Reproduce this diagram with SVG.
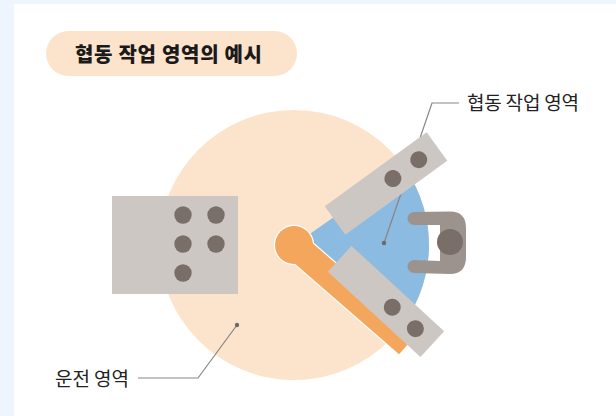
<svg xmlns="http://www.w3.org/2000/svg" width="616" height="416" viewBox="0 0 616 416">
  <defs>
    <style>
      .label { font-family: "Noto Sans CJK KR", "Noto Sans", sans-serif; font-size: 19px; fill: #222222; }
      .title { font-family: "Noto Sans CJK KR", "Noto Sans", sans-serif; font-size: 20px; font-weight: 900; fill: #1a1a1a; }
      .table { fill: #cdc7c4; }
      .knob { fill: #7a6e69; }
      .leader { fill: none; stroke: #8a8380; stroke-width: 1.2; }
      .leader-dot { fill: #6f6865; }
    </style>
  </defs>

  <!-- page background and panel -->
  <rect x="0" y="0" width="616" height="416" fill="#eef5fc"/>
  <rect x="14" y="4" width="602" height="412" fill="#ffffff"/>

  <!-- title badge -->
  <g id="title">
    <rect x="46" y="31" width="251" height="45" rx="22.5" fill="#fce4cc"/>
    <text class="title" x="75" y="62" textLength="187" lengthAdjust="spacing">협동 작업 영역의 예시</text>
  </g>

  <!-- operating range of the robot -->
  <g id="operating-zone">
    <circle cx="294" cy="245" r="135" fill="#fce4cc"/>
  </g>

  <!-- parts rack on the left -->
  <g id="parts-rack">
    <rect class="table" x="112" y="196" width="126" height="98"/>
    <circle class="knob" cx="183" cy="215" r="8.7"/>
    <circle class="knob" cx="216" cy="215" r="8.7"/>
    <circle class="knob" cx="183" cy="244" r="8.7"/>
    <circle class="knob" cx="216" cy="244" r="8.7"/>
    <circle class="knob" cx="183" cy="273" r="8.7"/>
  </g>

  <!-- shared workspace wedge -->
  <g id="collab-zone">
    <path d="M294,245 L404.6,167.6 A135,135 0 0 1 395.9,333.6 Z" fill="#8bbbe0"/>
  </g>

  <!-- callout lines -->
  <g id="connectors">
    <polyline class="leader" points="459,103 432,103 384,243"/>
    <circle class="leader-dot" cx="384" cy="243" r="2.2"/>
    <polyline class="leader" points="138,378 198,378 237,325"/>
    <circle class="leader-dot" cx="237" cy="325" r="2.2"/>
  </g>

  <!-- robot arm: white outline under the orange fill -->
  <g id="robot-arm">
    <g fill="#ffffff" stroke="#ffffff" stroke-width="2.4">
      <circle cx="294" cy="245" r="19"/>
      <rect x="0" y="-13.5" width="151" height="27" transform="translate(294,245) rotate(41)"/>
    </g>
    <g fill="#f4a75c">
      <circle cx="294" cy="245" r="19"/>
      <rect x="0" y="-13.5" width="151" height="27" transform="translate(294,245) rotate(41)"/>
    </g>
  </g>

  <!-- upper work table -->
  <g id="table-upper" transform="translate(386,183.5) rotate(-36)">
    <rect class="table" x="-63" y="-17.5" width="126" height="35"/>
    <circle class="knob" cx="8.5" cy="0" r="8.5"/>
    <circle class="knob" cx="40.5" cy="0" r="8.5"/>
  </g>

  <!-- lower work table -->
  <g id="table-lower" transform="translate(386,301.5) rotate(42.7)">
    <rect class="table" x="-63" y="-17.5" width="126" height="35"/>
    <circle class="knob" cx="8.5" cy="0" r="8.5"/>
    <circle class="knob" cx="40" cy="0" r="8.5"/>
  </g>

  <!-- operator seen from above -->
  <g id="operator">
    <path d="M414,212 L450,211.5 Q466,211.5 466,228 L466,257 Q466,274 450,274 L414,273 A6.5,6.5 0 0 1 414,260 L440,261 L440,225 L414,225 A6.5,6.5 0 0 1 414,212 Z" fill="#9c938e"/>
    <circle cx="450" cy="242" r="13" fill="#7a6e69"/>
  </g>

  <!-- labels -->
  <g id="label-collab">
    <text class="label" x="467" y="110" textLength="112" lengthAdjust="spacing">협동 작업 영역</text>
  </g>
  <g id="label-operating">
    <text class="label" x="55" y="385.5" textLength="74" lengthAdjust="spacing">운전 영역</text>
  </g>
</svg>
